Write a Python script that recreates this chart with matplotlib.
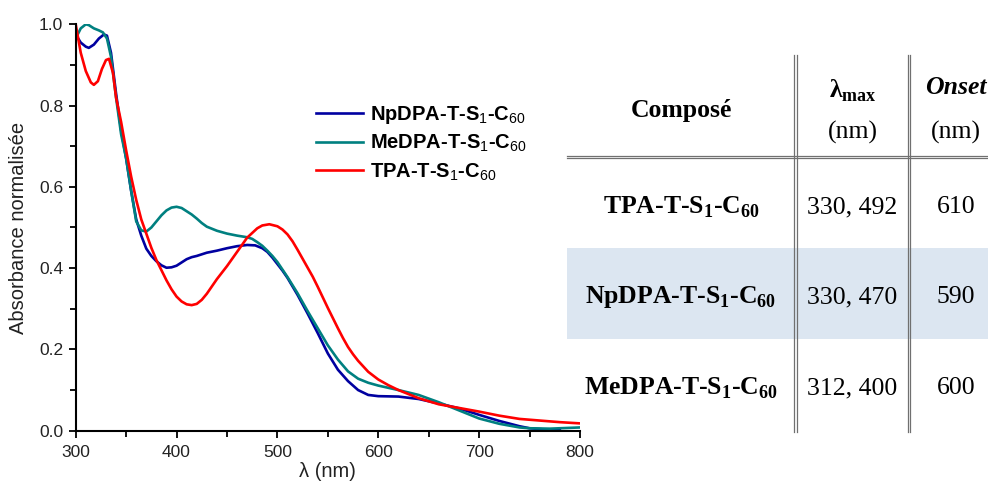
import numpy as np
import matplotlib
matplotlib.use('Agg')
import matplotlib.pyplot as plt
from matplotlib.ticker import MultipleLocator
from matplotlib.patches import Rectangle

plt.rcParams['font.family'] = ['Liberation Sans', 'DejaVu Sans']
plt.rcParams['mathtext.fontset'] = 'custom'
plt.rcParams['mathtext.rm'] = 'Liberation Sans'
plt.rcParams['mathtext.it'] = 'Liberation Sans:italic'
plt.rcParams['mathtext.bf'] = 'Liberation Serif:bold'

# absorption spectra (wavelength nm, normalised absorbance)
wl_np = [300, 305, 310, 313, 318, 323, 328, 331, 335, 340, 345, 350, 355, 360, 365,
         370, 375, 380, 385, 390, 395, 400, 405, 410, 415, 420, 430, 440, 450, 460,
         470, 478, 485, 490, 495, 500, 505, 510, 520, 530, 540, 550, 560, 570, 580,
         590, 600, 620, 640, 660, 680, 700, 720, 740, 750, 770, 780]
abs_np = [0.975, 0.955, 0.945, 0.942, 0.950, 0.965, 0.975, 0.972, 0.93, 0.83, 0.74,
          0.67, 0.59, 0.52, 0.48, 0.448, 0.43, 0.417, 0.407, 0.401, 0.402, 0.406,
          0.414, 0.422, 0.427, 0.430, 0.438, 0.443, 0.449, 0.454, 0.457, 0.456,
          0.449, 0.440, 0.426, 0.410, 0.394, 0.376, 0.334, 0.288, 0.24, 0.19, 0.15,
          0.122, 0.100, 0.088, 0.085, 0.084, 0.078, 0.067, 0.055, 0.039, 0.024,
          0.011, 0.006, 0.002, 0.002]

wl_me = [300, 305, 310, 313, 318, 323, 327, 331, 335, 340, 345, 350, 355, 360, 365,
         370, 375, 380, 385, 390, 395, 400, 405, 410, 415, 420, 425, 430, 440, 450,
         460, 470, 475, 480, 485, 490, 495, 500, 510, 520, 530, 540, 550, 560, 570,
         580, 590, 600, 620, 640, 660, 680, 700, 720, 740, 750, 770, 800]
abs_me = [0.965, 0.99, 1.0, 0.998, 0.99, 0.985, 0.98, 0.965, 0.92, 0.82, 0.73,
          0.67, 0.59, 0.515, 0.493, 0.490, 0.50, 0.515, 0.53, 0.542, 0.549, 0.551,
          0.548, 0.540, 0.532, 0.522, 0.511, 0.502, 0.492, 0.485, 0.480, 0.476,
          0.472, 0.464, 0.455, 0.443, 0.430, 0.415, 0.378, 0.338, 0.294, 0.252,
          0.21, 0.175, 0.146, 0.128, 0.118, 0.111, 0.100, 0.088, 0.070, 0.050,
          0.030, 0.017, 0.008, 0.006, 0.005, 0.008]

wl_tpa = [300, 305, 310, 315, 318, 322, 326, 330, 333, 337, 340, 345, 350, 355, 360,
          365, 370, 375, 380, 385, 390, 395, 400, 405, 410, 415, 420, 425, 430, 440,
          450, 460, 466, 470, 480, 485, 492, 500, 505, 510, 515, 520, 525, 530, 535,
          540, 545, 550, 555, 560, 565, 570, 575, 580, 590, 600, 610, 620, 640, 660,
          680, 700, 720, 740, 760, 780, 800]
abs_tpa = [1.0, 0.93, 0.885, 0.857, 0.851, 0.86, 0.89, 0.912, 0.915, 0.88, 0.82,
           0.76, 0.69, 0.625, 0.568, 0.52, 0.485, 0.45, 0.42, 0.395, 0.37, 0.348,
           0.330, 0.318, 0.311, 0.309, 0.312, 0.322, 0.337, 0.373, 0.405, 0.44,
           0.461, 0.475, 0.498, 0.505, 0.508, 0.503, 0.495, 0.483, 0.466, 0.445,
           0.423, 0.401, 0.379, 0.354, 0.328, 0.302, 0.277, 0.252, 0.228, 0.206,
           0.188, 0.172, 0.145, 0.126, 0.112, 0.10, 0.080, 0.065, 0.056, 0.047,
           0.037, 0.029, 0.025, 0.021, 0.018]

lbl_np = 'NpDPA-T-S$_{1}$-C$_{60}$'
lbl_me = 'MeDPA-T-S$_{1}$-C$_{60}$'
lbl_tpa = 'TPA-T-S$_{1}$-C$_{60}$'

# table
compounds = ['TPA-T-S$_\\mathbf{1}$-C$_\\mathbf{60}$',
             'NpDPA-T-S$_\\mathbf{1}$-C$_\\mathbf{60}$',
             'MeDPA-T-S$_\\mathbf{1}$-C$_\\mathbf{60}$']
lmax = ['330, 492', '330, 470', '312, 400']
onset = ['610', '590', '600']

W, H = 988, 482
fig = plt.figure(figsize=(W/100, H/100), dpi=100)

# table layer in pixel coordinates
tab = fig.add_axes([0, 0, 1, 1], zorder=0)
tab.set_xlim(0, W)
tab.set_ylim(H, 0)
tab.axis('off')

tab.add_patch(Rectangle((567, 248), W - 567, 91, facecolor='#dce6f1', edgecolor='none'))
for x in (795.5, 909):
    tab.plot([x - 1.3, x - 1.3], [55, 432], color='#707070', lw=0.9)
    tab.plot([x + 1.3, x + 1.3], [55, 432], color='#707070', lw=0.9)
tab.plot([567, W], [155.8, 155.8], color='#707070', lw=0.9)
tab.plot([567, W], [158.4, 158.4], color='#707070', lw=0.9)

serif = 'Liberation Serif'
col1, col2, col3 = 681, 852.5, 956
tab.text(col1, 110, 'Composé', family=serif, weight='bold', fontsize=18.5,
         ha='center', va='center')
tab.text(col2, 91, 'λ$_\\mathbf{max}$', family=serif, weight='bold', fontsize=18.5,
         ha='center', va='center')
tab.text(col2, 132, '(nm)', family=serif, fontsize=18.5, ha='center', va='center')
tab.text(col3, 87, 'Onset', family=serif, weight='bold', style='italic',
         fontsize=18.5, ha='center', va='center')
tab.text(col3, 132, '(nm)', family=serif, fontsize=18.5, ha='center', va='center')

row_y = [207, 297, 388]
for i in range(3):
    tab.text(col1, row_y[i], compounds[i], family=serif, weight='bold',
             fontsize=18.5, ha='center', va='center')
    tab.text(col2, row_y[i], lmax[i], family=serif, fontsize=18.5,
             ha='center', va='center')
    tab.text(col3, row_y[i], onset[i], family=serif, fontsize=18.5,
             ha='center', va='center')

# spectra
ax = fig.add_axes([75.7/W, 1 - 430.7/H, (580 - 75.7)/W, (430.7 - 24.3)/H], zorder=1)
ax.patch.set_alpha(0)
ax.plot(wl_np, abs_np, color='#0000a0', lw=1.9, label=lbl_np)
ax.plot(wl_me, abs_me, color='#008080', lw=1.9, label=lbl_me)
ax.plot(wl_tpa, abs_tpa, color='#ff0000', lw=1.9, label=lbl_tpa)

ax.set_xlim(300, 800)
ax.set_ylim(0, 1.0)
ax.xaxis.set_major_locator(MultipleLocator(100))
ax.xaxis.set_minor_locator(MultipleLocator(50))
ax.yaxis.set_major_locator(MultipleLocator(0.2))
ax.yaxis.set_minor_locator(MultipleLocator(0.1))
for s in ('top', 'right'):
    ax.spines[s].set_visible(False)
for s in ('left', 'bottom'):
    ax.spines[s].set_linewidth(1.5)
ax.tick_params(which='major', length=5, width=1.3, labelsize=12.5,
               labelcolor='#222222', direction='out')
ax.tick_params(which='minor', length=4, width=1.3, direction='out')
ax.tick_params(axis='x', pad=5)
ax.tick_params(axis='y', pad=4)
ax.yaxis.set_major_formatter(plt.FuncFormatter(lambda v, p: '%.1f' % v))
ax.set_xlabel('λ (nm)', fontsize=14.5, color='#222222', labelpad=2)
ax.set_ylabel('Absorbance normalisée', fontsize=14.5, color='#222222', labelpad=8)

ax.legend(loc='upper left', bbox_to_anchor=(316/W, 1 - 104/H),
          bbox_transform=fig.transFigure, frameon=False, borderpad=0,
          borderaxespad=0, handlelength=2.35, handletextpad=0.35,
          labelspacing=0.35, prop={'family': 'Liberation Sans', 'weight': 'bold',
                                    'size': 14.5})

fig.savefig('out.png', dpi=100)
